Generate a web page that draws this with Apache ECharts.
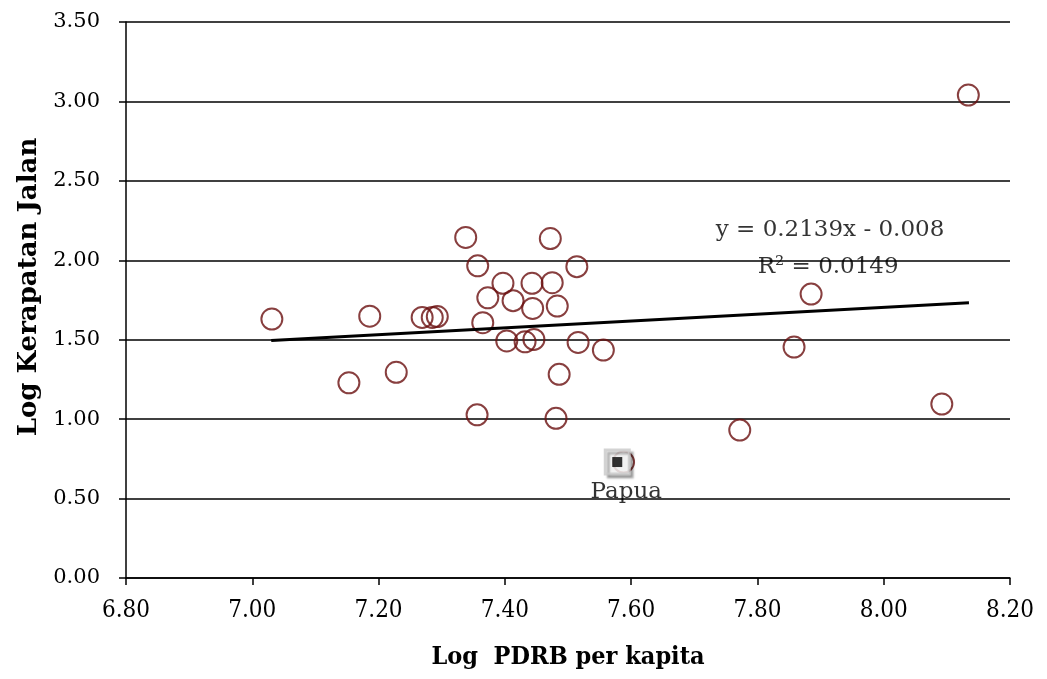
<!DOCTYPE html>
<html>
<head>
<meta charset="utf-8">
<script src="https://cdn.jsdelivr.net/npm/echarts@6/dist/echarts.min.js"></script>
<style>
  html, body { margin: 0; padding: 0; background: #fff; }
  #container { width: 1047px; height: 679px; }
</style>
</head>
<body>
<div id="container"></div>
<script>
// Log PDRB per kapita (x) vs Log Kerapatan Jalan (y), one point per province
var pdrbLog = [7.031, 7.153, 7.186, 7.228, 7.269, 7.285, 7.293, 7.338, 7.357, 7.356,
               7.365, 7.373, 7.397, 7.403, 7.413, 7.432, 7.443, 7.444, 7.446, 7.472,
               7.475, 7.483, 7.486, 7.481, 7.514, 7.516, 7.556, 7.772, 7.858, 7.885,
               8.092, 8.134, 7.588];
var jalanLog = [1.630, 1.229, 1.648, 1.295, 1.640, 1.640, 1.646, 2.144, 1.965, 1.027,
                1.607, 1.764, 1.855, 1.492, 1.746, 1.487, 1.855, 1.697, 1.502, 2.137,
                1.859, 1.712, 1.282, 1.005, 1.960, 1.483, 1.435, 0.931, 1.454, 1.787,
                1.095, 3.040, 0.730];

// highlighted province
var papua = [7.578, 0.730];

// regression line from the chart
var slope = 0.2139, intercept = -0.008;
var trendX = [7.03, 8.135];

var xTicks = { min: 6.8, max: 8.2, step: 0.2 };
var yTicks = { min: 0, max: 3.5, step: 0.5 };

var serif = '"DejaVu Serif", "Liberation Serif", serif';
var serifCond = '"DejaVu Serif Condensed", "DejaVu Serif", serif';

var myChart = echarts.init(document.getElementById('container'));

var points = pdrbLog.map(function (x, i) { return [x, jalanLog[i]]; });
var trend = trendX.map(function (x) { return [x, slope * x + intercept]; });

myChart.setOption({
    backgroundColor: '#fff',
    animation: false,
    grid: { left: 126, right: 37, top: 22, bottom: 101 },
    xAxis: {
        type: 'value',
        min: xTicks.min, max: xTicks.max, interval: xTicks.step,
        name: 'Log  PDRB per kapita',
        nameLocation: 'middle',
        nameGap: 67,
        nameTextStyle: { fontFamily: serifCond, fontWeight: 'bold', fontSize: 25, color: '#000' },
        axisLine: { show: true, lineStyle: { color: '#000', width: 1.5 } },
        axisTick: { show: true, length: 7, lineStyle: { color: '#000', width: 1.5 } },
        axisLabel: { fontFamily: serifCond, fontSize: 24, color: '#000', margin: 21,
                     formatter: function (v) { return v.toFixed(2); } },
        splitLine: { show: false }
    },
    yAxis: {
        type: 'value',
        min: yTicks.min, max: yTicks.max, interval: yTicks.step,
        name: 'Log Kerapatan Jalan',
        nameLocation: 'middle',
        nameGap: 82,
        nameTextStyle: { fontFamily: serif, fontWeight: 'bold', fontSize: 26, color: '#000',
                         padding: [0, 0, 0, 26] },
        axisLine: { show: true, lineStyle: { color: '#000', width: 1.5 } },
        axisTick: { show: true, length: 7, lineStyle: { color: '#000', width: 1.5 } },
        axisLabel: { fontFamily: serif, fontSize: 21, color: '#000', margin: 26,
                     formatter: function (v) { return v.toFixed(2); } },
        splitLine: { show: true, lineStyle: { color: '#000', width: 1.5 } }
    },
    series: [
        {
            type: 'scatter',
            data: points,
            symbol: 'circle',
            symbolSize: 21,
            itemStyle: { color: 'rgba(0,0,0,0)', borderColor: '#6a0f0f', borderWidth: 2 },
            z: 3
        },
        {
            type: 'line',
            data: trend,
            showSymbol: false,
            lineStyle: { color: '#000', width: 3 },
            z: 4
        },
        {
            type: 'scatter',
            data: [papua],
            symbol: 'rect',
            symbolSize: 24,
            itemStyle: { color: '#fff', borderColor: '#c8c8c8', borderWidth: 3,
                         shadowColor: 'rgba(0,0,0,0.35)', shadowOffsetX: 3, shadowOffsetY: 3, shadowBlur: 2 },
            label: { show: true, position: 'bottom', distance: 5, offset: [9, 0], formatter: 'Papua',
                     fontFamily: serif, fontSize: 23, color: '#000' },
            z: 5
        },
        {
            type: 'scatter',
            data: [papua],
            symbol: 'rect',
            symbolSize: 10,
            itemStyle: { color: '#000' },
            z: 6
        },
        {
            type: 'scatter',
            data: [[7.915, 2.19, 'y = 0.2139x - 0.008'], [7.912, 1.957, 'R\u00b2 = 0.0149']],
            symbolSize: 0,
            silent: true,
            label: { show: true, position: 'inside', fontFamily: serif, fontSize: 23, color: '#000',
                     formatter: function (p) { return p.data[2]; } },
            z: 7
        }
    ]
});
</script>
</body>
</html>
